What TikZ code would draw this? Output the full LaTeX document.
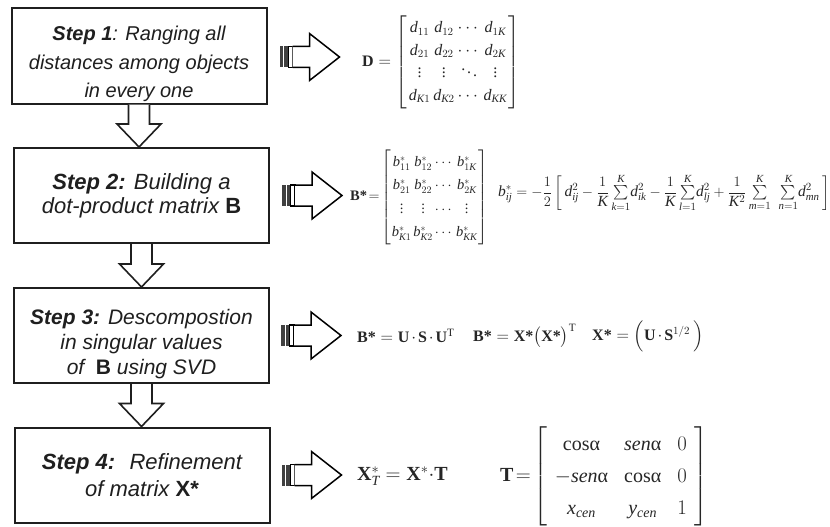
\documentclass[tikz,border=0pt]{standalone}
\usepackage{amsmath}
\usepackage{fontspec}
\setmainfont[NFSSFamily=libserif]{Liberation Serif}
\newfontfamily\arialf{Liberation Sans}
\DeclareSymbolFont{tletters}{TU}{libserif}{m}{it}
\SetSymbolFont{tletters}{bold}{TU}{libserif}{b}{it}
\DeclareSymbolFont{tupright}{TU}{libserif}{m}{n}
\makeatletter
\count@=`a
\loop \global\Umathcode\count@=7 \symtletters\count@ \ifnum\count@<`z \advance\count@\@ne \repeat
\count@=`A
\loop \global\Umathcode\count@=7 \symtletters\count@ \ifnum\count@<`Z \advance\count@\@ne \repeat
\makeatother
\Umathcode`*=7 \symoperators `*
\Umathchardef\alpha=0 \symtupright "3B1
\newcommand\dotop{\mkern2mu{\cdot}\mkern2mu}
\usetikzlibrary{calc}
\tikzset{
  stepbox/.style={draw=black!88, line width=2pt, minimum width=255pt, minimum height=95pt,
    align=center, text=black!88, inner sep=0pt,
    font=\arialf\itshape\fontsize{21}{25}\selectfont},
  downarr/.style={draw=black!88, line width=1.6pt, fill=white, line join=miter},
  eqn/.style={inner sep=0pt, text=black!85, anchor=west},
  stripearrow/.pic={
    \fill[black!75] (0,-10.5) rectangle (3.5,10.5);
    \fill[black!75] (4.5,-10.5) rectangle (8,10.5);
    \draw[line width=1.2pt, fill=white] (8.6,-10.5) rectangle (13,10.5);
    \draw[line width=1.5pt, fill=white, line join=miter]
      (13,-10.5) -- (30,-10.5) -- (30,-23.5) -- (60,0) -- (30,23.5) -- (30,10.5) -- (13,10.5);
  }
}
\newcommand\DownArr[2]{%
  \draw[downarr] let \p1=(#1.south), \p2=(#2.north) in
    (\x1-10.5pt,\y1) -- (\x1-10.5pt,\y2+23pt) -- (\x1-22pt,\y2+23pt) -- (\x1,\y2)
    -- (\x1+22pt,\y2+23pt) -- (\x1+10.5pt,\y2+23pt) -- (\x1+10.5pt,\y1);}
\begin{document}
\begin{tikzpicture}[x=1pt,y=-1pt]
\useasboundingbox[fill=white] (0,0) rectangle (830,527);

% step boxes
\node[stepbox, font=\arialf\itshape\fontsize{20}{28.5}\selectfont] (b1) at (139,56)
  {\rule{0pt}{31pt}\textbf{Step 1}: Ranging all\\distances among objects\\in every one};
\node[stepbox, font=\arialf\itshape\fontsize{22}{24}\selectfont] (b2) at (141.5,195.5)
  {\textbf{Step 2:} Building a\\dot-product matrix \textbf{\upshape B}};
\node[stepbox] (b3) at (141.5,335.5)
  {\rule{0pt}{32pt}\textbf{Step 3:} Descompostion\\in singular values\\of \ \textbf{\upshape B} using SVD};
\node[stepbox, font=\arialf\itshape\fontsize{22}{27}\selectfont] (b4) at (142,475)
  {\textbf{Step 4:} \ Refinement\\of matrix \textbf{\upshape X*}};

% down arrows
\DownArr{b1}{b2}
\DownArr{b2}{b3}
\DownArr{b3}{b4}

% right arrows
\pic at ($(b1.east)+(12,1)$) {stripearrow};
\pic at ($(b2.east)+(12,0)$) {stripearrow};
\pic at ($(b3.east)+(11,0)$) {stripearrow};
\pic at ($(b4.east)+(11,0)$) {stripearrow};

% row 1
\node[eqn, font=\fontsize{16}{19}\selectfont] (e1) at (362,62)
  {\setlength\arraycolsep{1.5pt}\renewcommand\arraystretch{1.18}%
   $\mathbf{D}=\left[\begin{array}{cccc}
    d_{11} & d_{12} & \cdots & d_{1K}\\
    d_{21} & d_{22} & \cdots & d_{2K}\\
    \vdots & \vdots & \ddots & \vdots\\
    d_{K1} & d_{K2} & \cdots & d_{KK}
   \end{array}\right]$};

% row 2
\node[eqn, font=\fontsize{14.5}{17}\selectfont] (e2) at (350,197)
  {\setlength\arraycolsep{1pt}\renewcommand\arraystretch{1.38}%
   $\mathbf{B*}\!=\!\left[\begin{array}{cccc}
    b^{\ast}_{11} & b^{\ast}_{12} & \cdots & b^{\ast}_{1K}\\
    b^{\ast}_{21} & b^{\ast}_{22} & \cdots & b^{\ast}_{2K}\\
    \vdots & \vdots & \cdots & \vdots\\
    b^{\ast}_{K1} & b^{\ast}_{K2} & \cdots & b^{\ast}_{KK}
   \end{array}\right]$};
\node[eqn, font=\fontsize{15.5}{18}\selectfont] (e3) at (498,193)
  {$\displaystyle b^{\ast}_{ij}=-\frac{1}{2}\left[\,d_{ij}^{2}-\frac{1}{K}\,{\textstyle\sum\limits_{k=1}^{K}}d_{ik}^{2}
   -\frac{1}{K}\,{\textstyle\sum\limits_{l=1}^{K}}d_{lj}^{2}
   +\frac{1}{K^{2}}\,{\textstyle\sum\limits_{m=1}^{K}}\;\;{\textstyle\sum\limits_{n=1}^{K}}d_{mn}^{2}\,\right]$};

% row 3
\node[eqn, font=\fontsize{16}{19}\selectfont] (e4) at (357,336)
  {$\mathbf{B*}=\mathbf{U}\dotop\mathbf{S}\dotop\mathbf{U}^{\mathrm{T}}$};
\node[eqn, font=\fontsize{16}{19}\selectfont] (e5) at (473,336)
  {$\mathbf{B*}=\mathbf{X*}\bigl(\mathbf{X*}\bigr)^{\mathrm{T}}$};
\node[eqn, font=\fontsize{16}{19}\selectfont] (e6) at (592,336)
  {$\mathbf{X*}=\Bigl(\mathbf{U}\dotop\mathbf{S}^{1/2}\,\Bigr)$};

% row 4
\node[eqn, font=\fontsize{20}{24}\selectfont] (e7) at (357,476)
  {$\mathbf{X}^{\ast}_{T}=\mathbf{X}^{\ast}{\cdot}\mathbf{T}$};
\node[eqn, font=\fontsize{20}{24}\selectfont] (e8) at (500,476)
  {\setlength\arraycolsep{8pt}\renewcommand\arraystretch{1.35}%
   $\mathbf{T}\!=\!\left[\begin{array}{ccc}
    \mathrm{cos}\alpha & sen\alpha & 0\\
    -sen\alpha & \mathrm{cos}\alpha & 0\\
    x_{cen} & y_{cen} & 1
   \end{array}\right]$};
\end{tikzpicture}
\end{document}
